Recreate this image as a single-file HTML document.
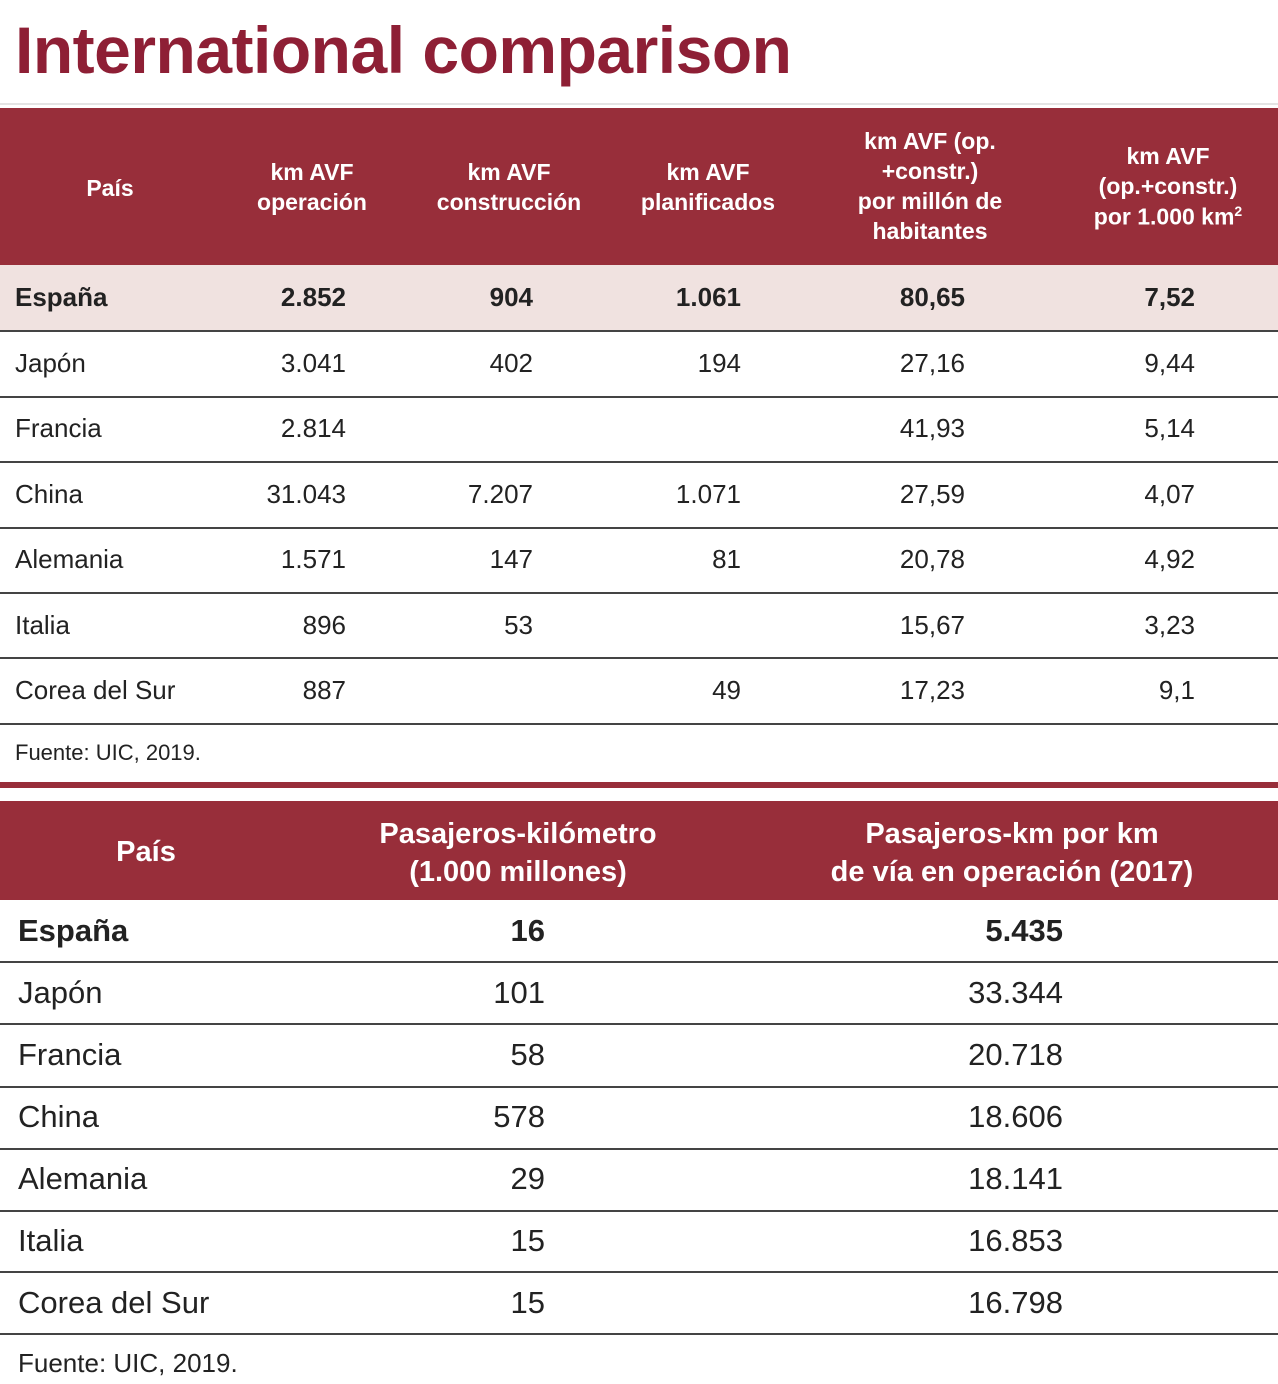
<!DOCTYPE html>
<html><head><meta charset="utf-8"><style>
*{margin:0;padding:0;box-sizing:border-box}
body{width:1278px;height:1384px;background:#fff;position:relative;font-family:"Liberation Sans","DejaVu Sans",sans-serif;color:#222;overflow:hidden}
.a{position:absolute;white-space:nowrap}
.h{background:#982e3a;position:absolute;left:0;width:1278px}
.hc{position:absolute;white-space:nowrap;color:#fff;font-weight:bold;text-align:center;transform:translateX(-50%);line-height:1.3}
.ln{position:absolute;left:0;width:1278px;height:2px;background:#444}
.r{position:absolute;transform:translateX(-100%)}
</style></head><body>
<div class="a" style="left:15px;top:12px;font-size:66px;font-weight:bold;color:#8e1f35;letter-spacing:-0.5px">International comparison</div>
<div class="a" style="left:0;top:103px;width:1278px;height:2px;background:#e4e4e4"></div>

<div class="h" style="top:108px;height:157px"></div>
<div class="hc" style="left:110px;top:174px;font-size:23px">País</div>
<div class="hc" style="left:312px;top:158px;font-size:23px">km AVF<br>operación</div>
<div class="hc" style="left:509px;top:158px;font-size:23px">km AVF<br>construcción</div>
<div class="hc" style="left:708px;top:158px;font-size:23px">km AVF<br>planificados</div>
<div class="hc" style="left:930px;top:127px;font-size:23px">km AVF (op.<br>+constr.)<br>por millón de<br>habitantes</div>
<div class="hc" style="left:1168px;top:142px;font-size:23px">km AVF<br>(op.+constr.)<br>por 1.000 km<sup style="font-size:14px">2</sup></div>

<div class="a" style="left:0;top:265px;width:1278px;height:66px;background:#f0e2e0"></div>
<div id="t1"></div>
<div class="ln" style="top:330px"></div><div class="ln" style="top:396px"></div><div class="ln" style="top:461px"></div><div class="ln" style="top:527px"></div><div class="ln" style="top:592px"></div><div class="ln" style="top:657px"></div><div class="ln" style="top:723px"></div>

<div class="a" style="left:15px;top:740px;font-size:22px">Fuente: UIC, 2019.</div>
<div class="a" style="left:0;top:782px;width:1278px;height:6px;background:#982e3a"></div>

<div class="h" style="top:801px;height:99px"></div>
<div class="hc" style="left:146px;top:834px;font-size:29px">País</div>
<div class="hc" style="left:518px;top:816px;font-size:29px">Pasajeros-kilómetro<br>(1.000 millones)</div>
<div class="hc" style="left:1012px;top:816px;font-size:29px">Pasajeros-km por km<br>de vía en operación (2017)</div>
<div class="ln" style="top:961px"></div><div class="ln" style="top:1023px"></div><div class="ln" style="top:1086px"></div><div class="ln" style="top:1148px"></div><div class="ln" style="top:1210px"></div><div class="ln" style="top:1271px"></div><div class="ln" style="top:1333px"></div>
<div class="a" style="left:18px;top:1348px;font-size:26px">Fuente: UIC, 2019.</div>

<script>
var d1=[["España","2.852","904","1.061","80,65","7,52"],["Japón","3.041","402","194","27,16","9,44"],["Francia","2.814","","","41,93","5,14"],["China","31.043","7.207","1.071","27,59","4,07"],["Alemania","1.571","147","81","20,78","4,92"],["Italia","896","53","","15,67","3,23"],["Corea del Sur","887","","49","17,23","9,1"]];
var ends=[346,533,741,965,1195],h="";
d1.forEach(function(r,i){var t=282+i*65.5,b=i==0?"font-weight:bold;":"";
h+='<div class="a" style="'+b+'left:15px;top:'+t+'px;font-size:26px">'+r[0]+'</div>';
for(var j=1;j<6;j++)if(r[j])h+='<div class="a r" style="'+b+'left:'+ends[j-1]+'px;top:'+t+'px;font-size:26px">'+r[j]+'</div>';});
var d2=[["España","16","5.435"],["Japón","101","33.344"],["Francia","58","20.718"],["China","578","18.606"],["Alemania","29","18.141"],["Italia","15","16.853"],["Corea del Sur","15","16.798"]];
d2.forEach(function(r,i){var t=913+i*62,b=i==0?"font-weight:bold;":"";
h+='<div class="a" style="'+b+'left:18px;top:'+t+'px;font-size:31px">'+r[0]+'</div>';
h+='<div class="a r" style="'+b+'left:545px;top:'+t+'px;font-size:31px">'+r[1]+'</div>';
h+='<div class="a r" style="'+b+'left:1063px;top:'+t+'px;font-size:31px">'+r[2]+'</div>';});
document.getElementById("t1").innerHTML=h;
</script>
</body></html>
